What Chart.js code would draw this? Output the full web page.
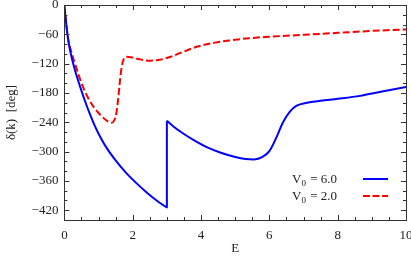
<!DOCTYPE html>
<html lang="en">
<head>
    <meta charset="UTF-8">
    <title>Phase shift vs E</title>
    <script src="https://cdn.jsdelivr.net/npm/chart.js"></script>
    <style>
        html, body { margin: 0; padding: 0; background: #fff; }
        #wrap { width: 411px; height: 258px; position: relative; }
    </style>
</head>
<body>
    <div id="wrap">
        <canvas id="chart" width="411" height="258"></canvas>
    </div>

    <script>
        // V0 = 6.0 (solid blue), split at the jump near E = 3
        const blueLowE    = [0, 0.04, 0.085, 0.15, 0.28, 0.45, 0.6, 0.75, 0.9, 1.05, 1.25, 1.5, 1.8, 2.1, 2.4, 2.7, 2.98];
        const blueLowDeg  = [-2, -30, -58, -87, -126, -165, -196, -224, -249, -270, -294, -318, -343, -364, -383, -400, -414];
        const blueHighE   = [3.0, 3.2, 3.5, 3.8, 4.2, 4.6, 5.0, 5.3, 5.55, 5.8, 6.0, 6.2, 6.4, 6.6, 6.8, 7.1, 7.5, 8.0, 8.65, 9.3, 10];
        const blueHighDeg = [-237, -249, -264, -277, -292, -303, -311, -315, -316, -311, -299, -272, -240, -218, -206, -200, -196, -192, -186, -177, -168];

        // V0 = 2.0 (dashed red)
        const redE   = [0, 0.05, 0.11, 0.2, 0.3, 0.45, 0.57, 0.7, 0.85, 1.0, 1.14, 1.27, 1.38, 1.46, 1.52, 1.57, 1.62, 1.67, 1.73,
                        1.82, 1.95, 2.2, 2.5, 2.8, 3.1, 3.4, 3.9, 4.4, 4.9, 5.4, 6.0, 7.0, 8.0, 9.0, 10];
        const redDeg = [-2, -35, -70, -95, -118, -150, -172, -191, -208, -221, -231, -238, -241, -236, -222, -195, -160, -130, -112,
                        -106, -107, -111, -114, -112, -106, -98, -85, -77, -72, -68, -65, -61, -57, -53, -50];

        const xTicks = [0, 2, 4, 6, 8, 10];
        const yTicks = [0, -60, -120, -180, -240, -300, -360, -420];

        const serif = "'Liberation Serif', 'DejaVu Serif', serif";
        const zip = (xs, ys) => xs.map((x, i) => ({ x: x, y: ys[i] }));
        const last = blueLowE.length - 1;

        // inward ticks on all four sides + frame + legend
        const framePlugin = {
            id: 'frame',
            afterDraw(chart) {
                const ctx = chart.ctx;
                const a = chart.chartArea;
                const xs = chart.scales.x, ys = chart.scales.y;
                ctx.save();
                ctx.strokeStyle = '#333';
                ctx.lineWidth = 1;
                ctx.strokeRect(Math.round(a.left) + 0.5, Math.round(a.top) + 0.5,
                               Math.round(a.right - a.left), Math.round(a.bottom - a.top));
                ctx.beginPath();
                for (let v = 0; v <= 10.001; v += 0.5) {
                    const p = Math.round(xs.getPixelForValue(v)) + 0.5;
                    const len = (v % 2 === 0) ? 5 : 3;
                    ctx.moveTo(p, a.bottom); ctx.lineTo(p, a.bottom - len);
                    ctx.moveTo(p, a.top); ctx.lineTo(p, a.top + len);
                }
                for (let v = -440; v <= 0; v += 20) {
                    const p = Math.round(ys.getPixelForValue(v)) + 0.5;
                    const len = (v % 60 === 0) ? 5 : 3;
                    ctx.moveTo(a.left, p); ctx.lineTo(a.left + len, p);
                    ctx.moveTo(a.right, p); ctx.lineTo(a.right - len, p);
                }
                ctx.stroke();

                // legend
                const rows = [
                    { val: '6.0', color: '#0000ff', dash: [], y: 183 },
                    { val: '2.0', color: '#ff0000', dash: [7, 2.5], y: 200 }
                ];
                rows.forEach(r => {
                    ctx.fillStyle = '#222';
                    ctx.textBaseline = 'alphabetic';
                    ctx.textAlign = 'left';
                    ctx.font = '13px ' + serif;
                    let x = 292;
                    ctx.fillText('V', x, r.y);
                    x += ctx.measureText('V').width;
                    ctx.font = '9px ' + serif;
                    ctx.fillText('0', x, r.y + 3);
                    x += ctx.measureText('0').width;
                    ctx.font = '13px ' + serif;
                    ctx.fillText(' = ' + r.val, x + 1, r.y);
                    ctx.strokeStyle = r.color;
                    ctx.lineWidth = 2;
                    ctx.setLineDash(r.dash);
                    ctx.beginPath();
                    ctx.moveTo(363, r.y - 4);
                    ctx.lineTo(388, r.y - 4);
                    ctx.stroke();
                    ctx.setLineDash([]);
                });
                ctx.restore();
            }
        };

        const blueStyle = { borderColor: '#0000ff', borderWidth: 2, pointRadius: 0, cubicInterpolationMode: 'monotone' };

        new Chart(document.getElementById('chart'), {
            type: 'line',
            data: {
                datasets: [
                    Object.assign({ label: 'V0 = 6.0', data: zip(blueLowE, blueLowDeg) }, blueStyle),
                    Object.assign({ label: 'jump', data: [
                        { x: blueLowE[last], y: blueLowDeg[last] },
                        { x: blueHighE[0], y: blueHighDeg[0] }
                    ] }, blueStyle, { cubicInterpolationMode: 'default', tension: 0 }),
                    Object.assign({ label: 'V0 = 6.0 high', data: zip(blueHighE, blueHighDeg) }, blueStyle),
                    {
                        label: 'V0 = 2.0',
                        data: zip(redE, redDeg),
                        borderColor: '#ff0000',
                        borderWidth: 2,
                        borderDash: [7, 3],
                        pointRadius: 0,
                        cubicInterpolationMode: 'monotone'
                    }
                ]
            },
            options: {
                responsive: false,
                animation: false,
                layout: { padding: { top: 5, right: 5, left: 0, bottom: 0 } },
                plugins: { legend: { display: false }, tooltip: { enabled: false } },
                scales: {
                    x: {
                        type: 'linear',
                        min: 0, max: 10,
                        afterBuildTicks: s => { s.ticks = xTicks.map(v => ({ value: v })); },
                        afterFit: s => { s.height = 38; s.paddingLeft = 0; s.paddingRight = 0; },
                        grid: { display: false, drawTicks: false },
                        border: { display: false },
                        ticks: {
                            padding: 8,
                            color: '#222',
                            font: { family: serif, size: 13 },
                            maxRotation: 0
                        },
                        title: {
                            display: true,
                            text: 'E',
                            color: '#222',
                            font: { family: serif, size: 13 },
                            padding: { top: 0, bottom: 2 }
                        }
                    },
                    y: {
                        type: 'linear',
                        min: -440, max: 0,
                        afterBuildTicks: s => { s.ticks = yTicks.map(v => ({ value: v })); },
                        afterFit: s => { s.width = 64.4; s.paddingTop = 0; s.paddingBottom = 0; },
                        grid: { display: false, drawTicks: false },
                        border: { display: false },
                        ticks: {
                            padding: 6,
                            color: '#222',
                            font: { family: serif, size: 13 },
                            callback: v => String(v).replace('-', '\u2212')
                        },
                        title: {
                            display: true,
                            text: '\u03b4(k)  [deg]',
                            color: '#222',
                            font: { family: serif, size: 13 },
                            padding: { top: 4, bottom: 0 }
                        }
                    }
                }
            },
            plugins: [framePlugin]
        });
    </script>
</body>
</html>
